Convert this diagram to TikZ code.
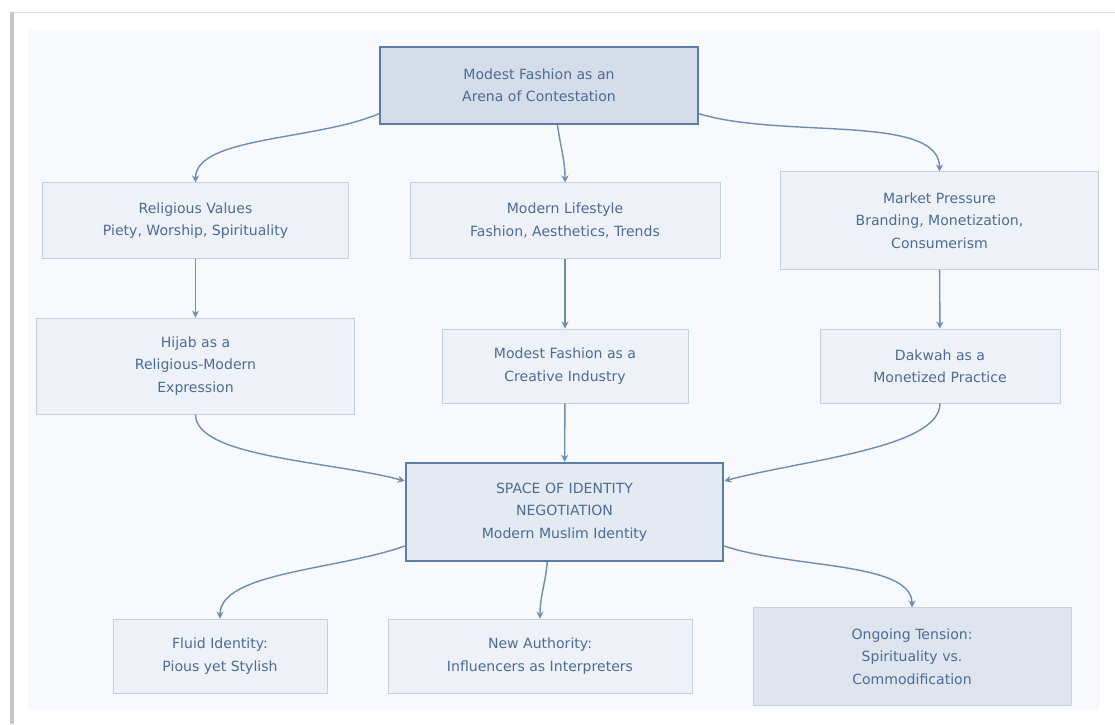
\documentclass[tikz,border=0pt]{standalone}
\usepackage{fontspec}
\setmainfont{DejaVu Sans}
\usetikzlibrary{arrows.meta}
\definecolor{boxfill}{HTML}{EEF2F8}
\definecolor{boxline}{HTML}{C3D0E0}
\definecolor{topfill}{HTML}{D4DDE9}
\definecolor{topline}{HTML}{5A7DA6}
\definecolor{tenfill}{HTML}{DEE5EF}
\definecolor{arrline}{HTML}{6F8CB1}
\definecolor{txt}{HTML}{4B6B94}
\definecolor{panel}{HTML}{F7F9FC}
\begin{document}
\begin{tikzpicture}[x=0.025cm, y=-0.025cm, >={Stealth[length=5pt,width=5pt]},
    main/.style = {draw=boxline, fill=boxfill, rectangle, align=center, text=txt, font=\fontsize{10}{16}\selectfont, line width=0.6pt},
    hub/.style = {main, draw=topline, fill=topfill, line width=1.3pt},
    link/.style = {arrline, line width=1pt, ->}]
    \useasboundingbox (0,0) rectangle (1115,724);
    % panel
    \fill[white] (0,0) rectangle (1115,724);
    \draw[gray!25, line width=0.6pt] (12,12) -- (1115,12);
    \fill[panel] (28,30) rectangle (1100,710);
    \draw[gray!45, line width=2.5pt] (12,12) -- (12,724);
    % nodes
    \node[hub, minimum width=7.95cm, minimum height=1.93cm] (1) at (539,85.5) {Modest Fashion as an\\Arena of Contestation};
    \node[main, minimum width=7.63cm, minimum height=1.88cm] (2) at (195.5,220.5) {Religious Values\\Piety, Worship, Spirituality};
    \node[main, minimum width=7.75cm, minimum height=1.88cm] (3) at (565,220.5) {Modern Lifestyle\\Fashion, Aesthetics, Trends};
    \node[main, minimum width=7.93cm, minimum height=2.43cm] (4) at (939.5,220.5) {Market Pressure\\Branding, Monetization,\\Consumerism};
    \node[main, minimum width=7.93cm, minimum height=2.4cm] (5) at (195.5,366) {Hijab as a\\Religious-Modern\\Expression};
    \node[main, minimum width=6.15cm, minimum height=1.85cm] (6) at (565,366) {Modest Fashion as a\\Creative Industry};
    \node[main, minimum width=6cm, minimum height=1.85cm] (7) at (940,366) {Dakwah as a\\Monetized Practice};
    \node[hub, fill=boxfill!60!topfill, line width=1.6pt, minimum width=7.93cm, minimum height=2.45cm] (8) at (564.5,512) {SPACE OF IDENTITY\\NEGOTIATION\\Modern Muslim Identity};
    \node[main, minimum width=5.35cm, minimum height=1.85cm] (9) at (220,656) {Fluid Identity:\\Pious yet Stylish};
    \node[main, minimum width=7.6cm, minimum height=1.85cm] (10) at (540,656) {New Authority:\\Influencers as Interpreters};
    \node[main, fill=tenfill, minimum width=7.95cm, minimum height=2.43cm] (11) at (912,656.5) {Ongoing Tension:\\Spirituality vs.\\Commodification};
    % arrows
    \draw[link] (1.190) to[out=203, in=90, out looseness=0.9, in looseness=0.6] (2.north);
    \draw[link] (1.295) to[out=-82, in=90] (3.north);
    \draw[link] (1.350) to[out=-17, in=90, out looseness=0.9, in looseness=0.6] (4.north);
    \draw[link] (2) -- (5);
    \draw[link] (3) -- (6);
    \draw[link] (4) -- (7);
    \draw[link] (5.south) to[out=-90, in=165, out looseness=0.5, in looseness=0.9] (8.169);
    \draw[link] (6) -- (8);
    \draw[link] (7.south) to[out=-90, in=15, out looseness=0.5, in looseness=0.9] (8.11);
    \draw[link] (8.192) to[out=200, in=90, out looseness=0.9, in looseness=0.6] (9.north);
    \draw[link] (8.251) to[out=-95, in=90] (10.north);
    \draw[link] (8.348) to[out=-19, in=90, out looseness=0.9, in looseness=0.6] (11.north);
\end{tikzpicture}
\end{document}
